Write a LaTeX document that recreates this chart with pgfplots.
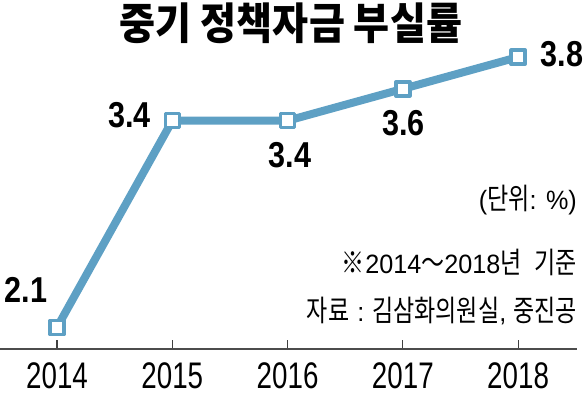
\documentclass[border=0pt]{standalone}
\usepackage{pgfplots}
\pgfplotsset{compat=1.18}
\usepackage{fontspec}
\setmainfont{Liberation Sans}
\newfontfamily\kr[FakeStretch=0.78]{Noto Sans CJK KR}
\newfontfamily\krt[FakeStretch=0.9]{Noto Sans CJK KR}
\newfontfamily\nt[FakeStretch=0.95]{Liberation Sans}
\newfontfamily\num[FakeStretch=0.75]{Liberation Sans}
\newfontfamily\numb[FakeStretch=0.85]{Liberation Sans}
\definecolor{lineblue}{RGB}{94,160,196}
\newcommand{\K}[1]{{\kr\fontsize{29.5}{32}\selectfont #1}}
\begin{document}
\begin{tikzpicture}[x=1pt,y=1pt]
\useasboundingbox (0,0) rectangle (585,393);
\begin{axis}[at={(0pt,44pt)}, anchor=south west, scale only axis,
  width=577pt, height=349pt,
  xmin=2013.505, xmax=2018.511, ymin=1.964, ymax=4.159,
  axis x line=bottom, axis y line=none, ytick=\empty,
  x axis line style={draw=black!70, line width=1.5pt, -},
  xtick={2014,2015,2016,2017,2018},
  xticklabels={2014,2015,2016,2017,2018},
  tick align=inside, major tick length=9pt,
  xtick style={draw=black!75, line width=1.2pt},
  xticklabel style={font=\num\fontsize{37}{40}\selectfont, anchor=center, inner sep=0pt, yshift=-27pt},
  clip=false]
\addplot[lineblue, line width=8pt, line join=round, mark=square*, mark size=7pt,
  mark options={fill=white, draw=lineblue, line width=3.5pt, solid}]
  coordinates {(2014,2.1) (2015,3.4) (2016,3.4) (2017,3.6) (2018,3.8)};
\end{axis}
\begin{scope}[every node/.style={inner sep=0pt}]
\node[font=\numb\bfseries\fontsize{36}{40}\selectfont] at (26,103) {2.1};
\node[font=\numb\bfseries\fontsize{36}{40}\selectfont] at (129.5,278) {3.4};
\node[font=\numb\bfseries\fontsize{36}{40}\selectfont] at (290,237.5) {3.4};
\node[font=\numb\bfseries\fontsize{36}{40}\selectfont] at (403.5,269.5) {3.6};
\node[font=\numb\bfseries\fontsize{36}{40}\selectfont] at (562,338.5) {3.8};
\node[font=\krt\bfseries\fontsize{43.5}{48}\selectfont] at (291,369.5) {중기 정책자금 부실률};
\node[anchor=east, font=\nt\fontsize{26.5}{28}\selectfont] at (577,193) {(\K{단위}: \%)};
\node[anchor=east, font=\nt\fontsize{26.5}{28}\selectfont] at (577,131) {\K{※}\hspace{1pt}2014\K{～}2018\K{년}\hspace{13pt}\K{기준}};
\node[anchor=east, font=\nt\fontsize{26.5}{28}\selectfont] at (577,82) {\K{자료}\hspace{8pt}:\hspace{8pt}\K{김삼화의원실}, \K{중진공}};
\end{scope}
\end{tikzpicture}
\end{document}
